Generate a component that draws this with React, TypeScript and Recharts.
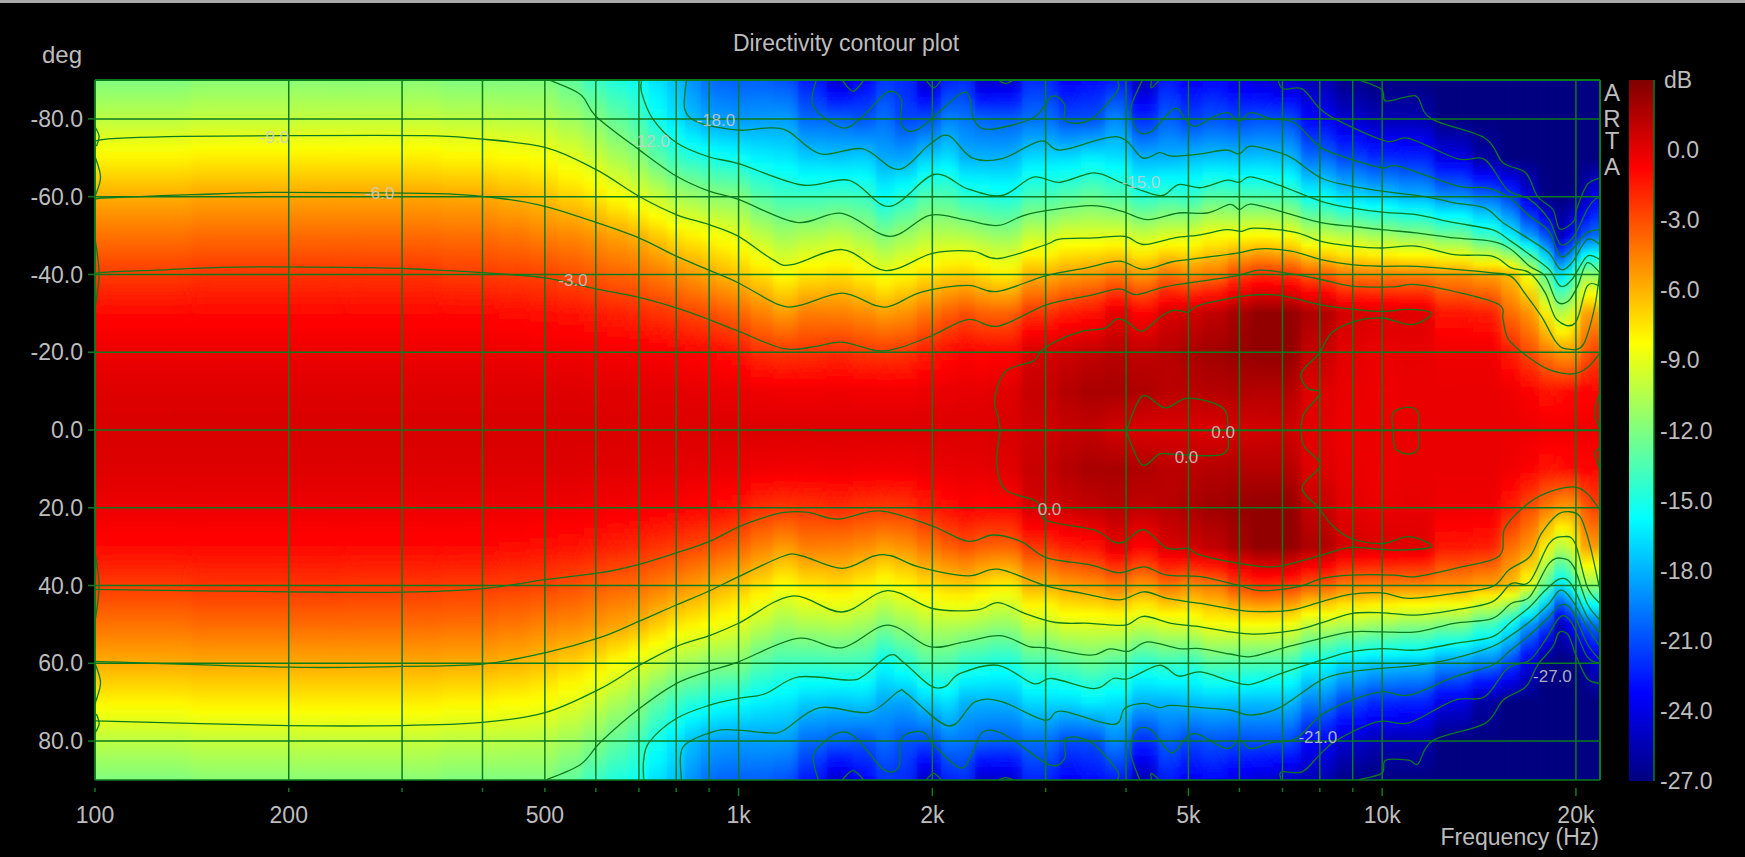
import React from "react";
import {
  ScatterChart,
  Scatter,
  XAxis,
  YAxis,
  ReferenceArea,
  ReferenceLine,
} from "recharts";

const GREEN = "#0c7a1e";
const TEXT = "#bdbdbd";
const FONT = "'Liberation Sans', Arial, sans-serif";

const angles = [-90, -80, -70, -60, -50, -40, -30, -20, -10, 0, 10, 20, 30, 40, 50, 60, 70, 80, 90];
const freqs = [
  100, 200, 300, 400, 450, 500, 550, 600, 650, 700, 750, 800, 850, 900, 950, 1000, 1090, 1176, 1303, 1444, 1570, 1704, 1794, 2000, 2130, 2268,
  2397, 2533, 3000, 3300, 3517, 3924, 4259, 4730, 5000, 5530, 6000, 6554, 7000, 8000, 9000, 10000, 11270, 12920,
  14800, 15850, 16950, 18130, 18900, 19500, 20000, 20700, 21400,
];

// dB per frequency, one value per angle in `angles`
const dbRows = [
  [-12, -10.2, -8, -6, -4.4, -2.9, -1.5, -0.7, -0.2, 0, -0.2, -0.7, -1.5, -2.9, -4.4, -6, -8, -10.2, -12],
  [-11.7, -10, -7.8, -5.8, -4.2, -2.7, -1.5, -0.7, -0.2, 0, -0.2, -0.7, -1.5, -2.7, -4.2, -5.9, -7.8, -10, -11.7],
  [-11.7, -10, -7.8, -5.8, -4.2, -2.7, -1.5, -0.7, -0.2, 0, -0.2, -0.7, -1.5, -2.8, -4.2, -5.9, -7.8, -10, -11.7],
  [-12, -10.2, -8, -5.9, -4.3, -2.9, -1.5, -0.7, -0.2, 0, -0.2, -0.7, -1.5, -2.9, -4.3, -6, -8, -10.2, -12],
  [-12, -10.3, -8.2, -6.2, -4.5, -3, -1.6, -0.7, -0.2, 0, -0.2, -0.7, -1.6, -3, -4.5, -6.2, -8.2, -10.3, -12],
  [-12, -10.4, -8.4, -6.5, -4.8, -3.1, -1.7, -0.8, -0.2, 0, -0.2, -0.8, -1.7, -3.1, -4.8, -6.5, -8.4, -10.4, -12],
  [-12.8, -11, -9, -7, -5, -3.4, -1.8, -0.8, -0.2, 0, -0.2, -0.8, -1.8, -3.4, -5, -7, -9, -11, -12.8],
  [-14, -11.8, -9.7, -7.5, -5.3, -3.7, -2, -0.9, -0.3, 0, -0.3, -0.9, -2, -3.7, -5.3, -7.5, -9.7, -11.8, -14],
  [-14.8, -12.8, -10.7, -8.3, -5.7, -4, -2.2, -1, -0.3, -0.1, -0.3, -1, -2.2, -4, -5.7, -8.3, -10.7, -12.8, -14.8],
  [-15.4, -13.7, -11.5, -9, -6.1, -4.2, -2.4, -1, -0.3, -0.1, -0.3, -1, -2.4, -4.2, -6.1, -9, -11.5, -13.8, -15.4],
  [-16.6, -15.2, -12.9, -9.8, -6.8, -4.6, -2.7, -1.1, -0.4, -0.1, -0.4, -1.1, -2.7, -4.6, -6.8, -9.8, -12.9, -15.2, -16.6],
  [-17.5, -16.5, -14.1, -10.7, -7.5, -5, -2.9, -1.2, -0.4, -0.1, -0.4, -1.2, -2.9, -5, -7.5, -10.7, -14, -16.4, -17.5],
  [-18.9, -17.6, -14.6, -11.1, -7.9, -5.4, -3.2, -1.4, -0.5, -0.1, -0.5, -1.4, -3.2, -5.4, -7.9, -11.1, -14.6, -17.6, -18.9],
  [-20, -18.5, -15, -11.5, -8.2, -5.8, -3.4, -1.5, -0.5, -0.1, -0.5, -1.5, -3.4, -5.8, -8.2, -11.6, -15, -18.4, -20],
  [-20.3, -18.7, -15.3, -11.7, -8.6, -6.2, -3.7, -1.7, -0.6, -0.1, -0.6, -1.7, -3.7, -6.2, -8.6, -11.7, -15.3, -18.6, -20.3],
  [-20.5, -18.8, -15.5, -11.8, -9, -6.6, -4, -1.9, -0.6, -0.1, -0.6, -1.9, -4, -6.6, -9, -11.8, -15.5, -18.7, -20.4],
  [-20.4, -18.7, -16.1, -13.2, -10.1, -7.3, -4.8, -2.6, -0.8, -0.1, -0.8, -2.6, -4.8, -7.3, -10.1, -13.2, -16.1, -18.6, -20.4],
  [-20.8, -18.6, -16.4, -13.9, -11, -8.3, -5.5, -2.8, -0.9, -0.1, -0.9, -2.8, -5.5, -8.3, -11, -13.9, -16.4, -18.6, -20.8],
  [-22.5, -20.2, -17.2, -14, -10.6, -7.6, -4.7, -2.7, -0.9, -0.1, -0.9, -2.7, -4.7, -7.6, -10.6, -14, -17.2, -20.1, -22.6],
  [-24.8, -20.3, -17.4, -13.8, -10.2, -7.3, -4.8, -2.5, -0.8, -0.1, -0.8, -2.5, -4.8, -7.3, -10.4, -13.9, -17.4, -20.5, -24.8],
  [-23.4, -20.8, -17.2, -14, -10.9, -7.9, -5.1, -2.8, -0.9, -0.1, -0.9, -2.8, -5.1, -7.9, -10.9, -14, -17.2, -20.8, -23.4],
  [-21.6, -19.9, -18.3, -15.7, -12, -8.7, -5.6, -2.9, -0.9, -0.1, -0.9, -2.9, -5.6, -8.7, -12, -15.7, -18.3, -20, -21.8],
  [-22, -21.2, -18.4, -14.7, -11.2, -8.1, -5.3, -2.8, -0.9, -0.1, -0.9, -2.8, -5.3, -8.1, -11.2, -14.7, -18.4, -20.8, -22],
  [-25, -21, -17.2, -13.4, -10.4, -7.4, -4.5, -2.1, -0.7, -0.1, -0.7, -2.1, -4.5, -7.4, -10.4, -13.4, -17.2, -21, -25],
  [-22.3, -19.4, -16.6, -13.4, -10.4, -7, -3.9, -1.7, -0.6, -0.1, -0.6, -1.7, -3.9, -7, -10.4, -13.4, -16.6, -19.6, -22.3],
  [-21.9, -19.8, -18, -14.5, -10.5, -6.8, -3.4, -1.3, -0.5, -0.1, -0.5, -1.3, -3.4, -6.8, -10.5, -14.5, -18, -19.8, -21.9],
  [-25, -20.3, -18, -14.6, -10.9, -7.3, -3.9, -1.5, -0.5, -0.1, -0.5, -1.5, -3.9, -7.3, -10.9, -14.6, -18, -20.3, -25],
  [-24.8, -20.5, -18, -15, -11.3, -7.8, -4, -1.4, -0.3, 0, -0.3, -1.4, -4, -7.8, -11.3, -15, -18, -20.5, -24.8],
  [-22, -20, -16.8, -13.7, -9.9, -6.1, -2.7, 0.1, 0.6, 0.3, 0.6, 0.1, -2.7, -6.1, -9.9, -13.7, -16.8, -20, -22.2],
  [-23.5, -21, -16.8, -13.2, -9.2, -5.6, -2.1, 0.4, 1.2, 0.6, 1.2, 0.4, -2.1, -5.6, -9.2, -13.2, -16.8, -21, -23.5],
  [-23, -21, -16.2, -12.7, -9.2, -5.3, -1.8, 0.7, 1.6, 0.7, 1.6, 0.7, -1.8, -5.3, -9.2, -12.7, -16.2, -21, -23],
  [-22.5, -19.3, -16.6, -13.3, -9.1, -4.7, -0.5, 1.1, 1.6, 0.2, 1.6, 1.1, -0.5, -4.7, -9.1, -13.3, -16.6, -19.3, -22.5],
  [-25.5, -22, -18, -14.5, -9.9, -5.4, -1.3, 0.8, 1.4, -0.1, 1.4, 0.8, -1.3, -5.4, -9.9, -14.5, -18, -22, -25.5],
  [-22.5, -20.4, -18, -14, -9.3, -4.4, 0, 1.1, 1, -0.1, 1, 1.1, 0, -4.4, -9.3, -14, -18, -20.4, -22.5],
  [-23.5, -21.4, -17.7, -14.3, -9.2, -5, 0.3, 1.5, 1, -0.1, 1, 1.5, 0.3, -5, -9.2, -14.3, -17.7, -21.2, -23.5],
  [-23.2, -20.8, -17.5, -13.2, -8.5, -4.6, 0.8, 1.9, 1.2, -0.1, 1.2, 1.9, 0.8, -4.6, -8.5, -13.2, -17.5, -20.8, -23.2],
  [-24, -21.2, -17.6, -13.4, -8.4, -3.2, 1.7, 2.2, 1.3, 0.1, 1.3, 2.2, 1.7, -3.2, -8.4, -13.4, -17.6, -21, -24],
  [-24.5, -20.9, -17.5, -13.5, -8.2, -2.6, 2.4, 2.4, 1.2, 0.2, 1.2, 2.4, 2.4, -2.6, -8.4, -13.5, -17.7, -20.9, -24.5],
  [-25, -21, -17.7, -13.7, -8.5, -2.8, 2.4, 2.4, 1.2, 0.3, 1.2, 2.4, 2.4, -2.8, -8.5, -13.7, -17.7, -21, -25],
  [-25.5, -23.3, -20, -15.6, -10, -3.8, 1.4, 0.7, -0.2, -0.4, -0.2, 0.7, 1.4, -3.8, -10, -15.6, -19.5, -23.3, -25.5],
  [-26.8, -24.7, -21.2, -16.8, -10.5, -4.7, 0.1, -0.4, -0.6, -0.7, -0.6, -0.4, 0.1, -4.7, -10.5, -16.8, -21.2, -24.7, -26.8],
  [-27, -25.4, -22, -17.3, -11, -4.8, -0.1, -0.6, -0.8, -0.6, -0.8, -0.6, -0.1, -4.8, -11, -17.3, -22, -25.4, -27],
  [-27, -25.5, -22.2, -18, -11.5, -4.9, -0.2, -0.5, -0.6, -0.6, -0.6, -0.5, -0.2, -4.9, -11.5, -17.5, -22.2, -25.5, -27],
  [-27, -27, -24, -19.1, -12.4, -5.2, -1.9, -0.8, -0.6, -0.6, -0.6, -0.8, -1.9, -5.2, -12, -18.8, -24, -27, -27],
  [-27, -27, -26, -20, -14, -5.7, -2.1, -0.8, -0.6, -0.6, -0.6, -0.8, -2.1, -5.7, -13.6, -19.5, -26, -27, -27],
  [-27, -27, -27, -21.2, -16, -6.3, -4.2, -2, -0.8, -0.6, -0.8, -2, -4.2, -6.3, -15.5, -21, -27, -27, -27],
  [-27, -27, -27, -24.3, -18.5, -8.6, -5.2, -3.3, -1.2, -0.7, -1.2, -3.3, -5.2, -8.6, -18.5, -24, -27, -27, -27],
  [-27, -27, -27, -27, -20.6, -12.8, -7.8, -4.6, -1.9, -0.8, -1.9, -4.6, -7.8, -12.8, -20.8, -27, -27, -27, -27],
  [-27, -27, -27, -27, -26, -17, -10.6, -5.4, -1.9, -0.8, -1.9, -5.4, -10.6, -17, -26, -27, -27, -27, -27],
  [-27, -27, -27, -27, -24, -16, -10.3, -5.6, -1.7, -0.8, -1.7, -5.6, -10.3, -16, -24, -27, -27, -27, -27],
  [-27, -27, -27, -27, -22.6, -13.9, -8.5, -5.6, -1.8, -0.8, -1.8, -5.6, -8.5, -13.9, -23, -27, -27, -27, -27],
  [-27, -27, -27, -25.7, -20.6, -11, -5.6, -3.8, -1.5, -0.8, -1.5, -3.8, -5.6, -11, -20.6, -26.5, -27, -27, -27],
  [-27, -27, -27, -23.7, -20, -11.5, -5.5, -3, -1.5, -0.7, -1.5, -3, -5.5, -11.5, -20, -24.5, -27, -27, -27],
];

const freqTicks = [100, 200, 300, 400, 500, 600, 700, 800, 900, 1000, 2000, 3000, 4000, 5000, 6000, 7000, 8000, 9000, 10000, 20000];
const freqLabels: Record<number, string> = { 100: "100", 200: "200", 500: "500", 1000: "1k", 2000: "2k", 5000: "5k", 10000: "10k", 20000: "20k" };
const angleTicks = [-80, -60, -40, -20, 0, 20, 40, 60, 80];
const dbTicks = [-27, -24, -21, -18, -15, -12, -9, -6, -3, 0];

// contour lines, [Hz, deg]
const m3Top = [[100, -39], [101, -40.4], [125, -41.1], [165, -41.9], [273, -41.7], [341, -41.1], [420, -40.2], [500, -39.1], [600, -36.3], [700, -34.1], [800, -31.4], [900, -28.4], [1000, -25.4], [1176, -20.9], [1318, -21.5], [1448, -22.6], [1640, -20.4], [1775, -21.1], [2000, -24.3], [2270, -28.4], [2533, -26.7], [3006, -32.2], [3519, -34.6], [3900, -36.3], [4149, -34.8], [4560, -36.7], [4995, -37.8], [5880, -39.5], [6463, -41.1], [7304, -40], [8039, -38.7], [8954, -37], [10396, -36.8], [11293, -37.4], [13274, -35.2], [15205, -32.2], [15410, -28.4], [15730, -23.2], [16950, -18.5], [18170, -15.5], [19715, -14.4], [20820, -16], [21800, -19.8]];
const m3Bottom = [[100, 41], [200, 41.6], [300, 41.7], [400, 40.8], [500, 38.5], [610, 36.7], [698, 34.6], [800, 31.6], [900, 28.7], [1000, 24.9], [1085, 22.7], [1176, 21.2], [1283, 21.2], [1428, 22.9], [1660, 20.8], [2000, 24.7], [2270, 28.6], [2485, 27], [2750, 28.7], [3006, 32.8], [3519, 34.7], [3900, 36.7], [4261, 35.2], [4630, 37.3], [5220, 37.7], [5970, 39.9], [6463, 41.3], [7410, 40.3], [8039, 38.2], [8954, 37.3], [10396, 37.3], [11293, 37.7], [13274, 35.2], [15205, 32.4], [15500, 25.3], [16620, 19.7], [17930, 16.3], [19715, 14.6], [20820, 16.3], [21800, 20.6]];
const m6Top = [[100, -58], [101, -59.5], [120, -60.1], [142, -60.5], [186, -61.1], [261, -61], [352, -60.7], [433, -59.4], [500, -57.5], [600, -53.4], [700, -49.4], [800, -44.7], [900, -41.1], [1000, -37.8], [1160, -32.1], [1255, -32.2], [1448, -35.2], [1635, -32], [1730, -32], [1930, -35.5], [2270, -37.2], [2520, -35.6], [3006, -39.7], [3470, -41.7], [3900, -43.4], [4261, -41.3], [4700, -43.2], [4995, -43.8], [5950, -45.5], [6463, -46.6], [7225, -46], [8039, -43.8], [8954, -42.5], [9990, -42.1], [11293, -42.1], [12937, -41.3], [14820, -40.4], [15864, -39.5], [16720, -34.8], [17680, -29.2], [18670, -22.4], [19448, -20.8], [20540, -22], [21400, -31.8], [21800, -41.3]];
const m6Bottom = [[100, 59.5], [200, 61], [300, 60.8], [400, 60.2], [500, 57.3], [610, 53.3], [698, 49.3], [800, 45], [900, 41.4], [1000, 37.7], [1176, 32.4], [1255, 32.4], [1448, 35.6], [1623, 32.4], [1730, 32.4], [1905, 35.2], [2270, 37.5], [2533, 35.8], [3006, 40.1], [3425, 42], [3900, 43.7], [4261, 41.6], [4630, 43.3], [5220, 44.6], [5970, 46.3], [6463, 46.7], [7225, 46.3], [8039, 44.2], [8954, 42.2], [10000, 41.9], [11000, 43.3], [12937, 42], [14820, 40.3], [15730, 36], [16950, 32.6], [17680, 26.6], [18670, 21.9], [19448, 21], [20300, 22.3], [21000, 29.2], [21800, 41.2]];
const m9Top = [[100, -73.5], [101, -74.5], [112, -75.1], [137, -75.5], [198, -75.7], [325, -75.7], [388, -75], [500, -72.7], [600, -67], [700, -60.1], [800, -55.4], [900, -52.8], [1000, -49.8], [1130, -43.8], [1210, -42.5], [1448, -46.4], [1693, -41], [2000, -45.4], [2305, -46], [2533, -44.1], [3006, -47.7], [3155, -49.1], [3575, -49.4], [3980, -49.8], [4261, -47.7], [4759, -49.4], [5220, -50.2], [5722, -51.5], [6045, -51.1], [6330, -51.9], [7304, -50.9], [8039, -48.5], [8954, -47.3], [10000, -46.8], [11293, -47.3], [12937, -45.1], [14820, -44.7], [15864, -41.7], [16950, -40.4], [17930, -35.2], [18670, -28.4], [19950, -27.5], [20820, -37], [21800, -37]];
const m9Bottom = [[100, 74.8], [200, 76], [300, 76], [400, 75.2], [500, 72.7], [610, 66.5], [698, 60.7], [800, 55.7], [900, 52.9], [1000, 49.7], [1210, 42.7], [1448, 46.8], [1704, 41.3], [2000, 45.9], [2340, 46.3], [2533, 44.4], [2790, 47.2], [3110, 49.5], [3519, 49.7], [3980, 50.2], [4261, 47.9], [4700, 49.7], [5220, 50.6], [5800, 51.9], [6330, 52.5], [7304, 51.5], [8039, 49.6], [8954, 47.2], [10000, 47], [11293, 47.6], [12937, 46.3], [14820, 44.2], [15864, 39.5], [16950, 39], [18170, 29.2], [19190, 27.4], [19950, 29.2], [20820, 40.3], [21800, 44.6]];
const m12Top = [[508, -90], [568, -86.3], [600, -80.7], [700, -72.1], [800, -65.3], [900, -61.4], [1000, -59.3], [1230, -53.4], [1448, -55.7], [1716, -49.8], [1980, -55.2], [2242, -54.1], [2533, -52.6], [2830, -55.6], [3519, -57.7], [3930, -56.3], [4320, -54.1], [4830, -55.8], [5347, -55.8], [5800, -58], [6000, -56.7], [6250, -58.1], [6930, -56.3], [8039, -53.3], [8954, -52.4], [10000, -51.5], [11293, -50.7], [12937, -49.4], [14820, -48.5], [15864, -46.4], [16950, -42.1], [17930, -39.5], [18670, -33.1], [19448, -33.1], [20120, -37], [20820, -43], [21800, -40.4]];
const m12Bottom = [[502, 90], [568, 86], [610, 80.3], [698, 71.9], [800, 65.2], [900, 62], [1000, 59.6], [1235, 53.6], [1448, 56], [1704, 50.2], [1980, 55.7], [2242, 54.5], [2550, 52.9], [2830, 55.7], [3006, 56], [3519, 57.9], [3770, 56.3], [4040, 56.9], [4320, 54.5], [4830, 56.2], [5220, 56.2], [5800, 57.6], [6250, 58.3], [6970, 56.2], [8039, 53.6], [8954, 51.9], [10000, 51.9], [11293, 51.9], [12937, 49.7], [14820, 48.5], [15864, 44.6], [16950, 42.9], [18170, 34.3], [19050, 33], [19850, 35.2], [20820, 44.6], [21800, 48.9]];
const m15Top = [[707, -90], [707, -86.7], [737, -79.8], [802, -73.8], [900, -70.2], [1000, -68.5], [1255, -63], [1486, -64.2], [1716, -57.5], [2010, -65.7], [2270, -62], [2568, -60.3], [2870, -65], [3155, -63.7], [3570, -66.1], [3930, -63.6], [4261, -61.4], [4560, -60.3], [4830, -63.1], [5220, -62.3], [5722, -64.2], [6000, -63.7], [6250, -65.1], [6930, -62.9], [8039, -58.8], [8954, -57.1], [10000, -56], [11293, -55.4], [12937, -53.3], [14820, -51.5], [15864, -48.5], [16950, -45.1], [18170, -41.3], [18925, -37], [19715, -38.7], [20820, -44.7], [21800, -43.8]];
const m15Bottom = [[712, 90], [712, 84.9], [727, 80.2], [800, 74.2], [900, 70.8], [1000, 69], [1100, 67.8], [1240, 63.5], [1486, 64.3], [1570, 63], [1716, 57.9], [1800, 59.6], [1980, 65.6], [2093, 66], [2210, 62.6], [2533, 60.5], [2870, 65.2], [3070, 63.9], [3570, 66.5], [3820, 63.9], [4040, 63.9], [4505, 60.5], [4830, 63.3], [5220, 62.2], [5800, 64.5], [6250, 65.4], [6970, 62.6], [8039, 59.2], [8954, 57], [10000, 56.2], [11293, 56.6], [12937, 54.9], [14820, 53.2], [15864, 49.3], [16950, 45.5], [17930, 41.2], [18925, 38.2], [19715, 39.9], [20820, 48], [21800, 52.3]];
const m18Top = [[830, -90], [825, -82.4], [870, -79], [1000, -77.1], [1115, -77.7], [1195, -76.8], [1340, -71], [1560, -72.3], [1770, -67], [1980, -73.4], [2120, -75.7], [2305, -70], [2568, -69.8], [2945, -74.3], [3175, -72], [3874, -75.4], [4240, -70], [4505, -71.3], [4720, -70.4], [5220, -71], [5722, -72], [6000, -71], [6250, -73], [6930, -71.3], [7304, -69.6], [8039, -64.8], [8954, -62.7], [10000, -61.4], [11770, -59.9], [12937, -58.4], [14430, -57.1], [15410, -53.3], [16950, -49], [18170, -45.5], [18925, -41.3], [19715, -43], [20820, -49], [21800, -47.7]];
const m18Bottom = [[815, 90], [820, 81.5], [920, 77.4], [1000, 77.2], [1115, 77.9], [1176, 77.2], [1336, 71.4], [1592, 72.6], [1770, 67.3], [1826, 67.8], [2120, 76.1], [2330, 69.9], [2568, 69.9], [2985, 74.6], [3175, 72.3], [3820, 75.7], [3980, 71.6], [4261, 70.3], [4505, 71.4], [4700, 70.8], [5220, 71.4], [5800, 72], [6250, 73.3], [6930, 71.4], [8039, 64.3], [8954, 62.2], [10000, 61.3], [11293, 60.5], [12937, 58.7], [14820, 55.7], [15730, 53.2], [16950, 49.3], [18170, 44.6], [18925, 41.2], [19715, 43.7], [20820, 50.6], [21800, 55.7]];
const m21TopA = [[1320, -90], [1306, -83.3], [1448, -77.7], [1560, -80.7], [1704, -86.9], [1790, -85], [1790, -78.6], [1900, -77.3], [2210, -86.4], [2290, -85], [2320, -79.8], [2450, -77.3], [2870, -80.3], [3070, -85.8], [3210, -83.7], [3225, -79.4], [3519, -79.8], [3874, -87.1], [3874, -90]];
const m21TopB = [[4240, -90], [4065, -82.4], [4175, -76.8], [4380, -76.8], [4759, -82.7], [4950, -79.8], [5130, -78.1], [5495, -80.7], [5755, -81.6], [6000, -79.4], [6250, -81.6], [6735, -80], [7304, -79], [8039, -72.6], [8954, -69.6], [10000, -67.4], [10620, -67.8], [13115, -62.7], [14430, -62.3], [15650, -60.1], [16950, -55], [18170, -51.1], [18925, -44.7], [19715, -46.4], [20820, -50.7], [21800, -51.5]];
const m21BottomA = [[1330, 90], [1310, 83.2], [1428, 77.9], [1525, 79.3], [1680, 87.3], [1775, 86.6], [1790, 79.3], [1930, 77.6], [2010, 81], [2210, 86.9], [2305, 83.2], [2398, 77.6], [2600, 78.5], [3030, 86], [3210, 84.5], [3225, 79.3], [3519, 80.2], [3874, 87.5], [3874, 90]];
const m21BottomB = [[4200, 90], [4065, 82.8], [4149, 77.2], [4380, 77.2], [4700, 83], [4950, 79.3], [5165, 78.2], [5722, 81.9], [6000, 79.8], [6250, 81.9], [6735, 80.4], [7355, 79.3], [8039, 73.3], [8954, 69.5], [10000, 67.3], [11000, 68.2], [12937, 63.5], [14820, 60.5], [15730, 57], [16950, 52.7], [18170, 48], [18925, 45], [19715, 46.3], [20820, 54.9], [21800, 59.2]];
const m24Top = [[6890, -90], [7017, -87.7], [7510, -87.7], [7985, -82.8], [8490, -79.8], [10125, -74.3], [11000, -75], [13115, -69.7], [14430, -69.6], [15650, -61.8], [16950, -59.3], [18170, -54.1], [18925, -47.7], [19850, -49.8], [20820, -56.7], [21400, -59.3], [21800, -59.7]];
const m24Bottom = [[6970, 90], [6970, 87.9], [7510, 87.9], [7985, 83.6], [8490, 79.8], [9857, 75], [11000, 75.3], [12937, 69.5], [14430, 68.6], [15650, 61.3], [16950, 59.2], [17930, 54], [18925, 48], [19715, 49.7], [20820, 58.3], [21800, 60]];
const m24Islands = [
  [[1448, -90], [1505, -87.1], [1566, -90]], [[1955, -90], [2010, -88], [2065, -90]], [[2533, -90], [2600, -89.1], [2675, -90]], [[4380, -90], [4380, -88], [4505, -90]],
  [[1448, 90], [1505, 87.6], [1566, 90]], [[1955, 90], [2010, 88.3], [2065, 90]], [[2533, 90], [2600, 89.4], [2675, 90]], [[4380, 90], [4380, 88.3], [4505, 90]],
];
const m27Top = [[9210, -90], [9980, -87.6], [10125, -84.6], [11000, -85.8], [11370, -85.4], [11930, -80], [14430, -75.1], [15410, -68.7], [16720, -66.1], [17430, -60.1], [18420, -56.7], [18870, -51.7], [19850, -53.7], [20040, -56.7], [20820, -63.1], [21800, -64.8]];
const m27Bottom = [[9150, 90], [9980, 88.3], [10125, 84.9], [11000, 84.9], [11370, 85.8], [12000, 79.8], [14430, 75.5], [15410, 69.5], [16720, 66], [17430, 60.5], [18420, 55.7], [18820, 52.1], [19448, 52.7], [20040, 58.3], [20820, 63.9], [21800, 65.2]];
const zeroMain = [[2550, 0], [2533, -3.1], [2500, -7.8], [2600, -15.1], [2870, -17.7], [2945, -20.2], [3110, -22.8], [3425, -25.4], [3710, -26.2], [3874, -28.6], [4040, -27.5], [4240, -25.4], [4530, -29.2], [4759, -30.8], [4995, -30.3], [5220, -32.2], [6200, -34.6], [6930, -34.6], [8039, -32.2], [8954, -31.1], [10000, -30.5], [11000, -31], [11930, -30], [11120, -27.1], [10000, -28.8], [9090, -28], [8350, -25], [7985, -19.8], [7490, -14.7], [7650, -10.8], [8010, -9.5], [7570, -4.4], [7480, 0], [7570, 4.3], [8010, 9], [7510, 14.8], [7985, 20.2], [8350, 24.4], [8954, 27.9], [10000, 29.2], [11000, 27.4], [11930, 30], [10396, 30.9], [8954, 30.2], [8039, 32.2], [6930, 35], [6200, 34.7], [5220, 32.2], [4995, 30.4], [4630, 30.4], [4261, 25.6], [3980, 28.7], [3820, 28.7], [3570, 25.7], [3006, 23.2], [2905, 18.4], [2600, 15.4], [2520, 8.6], [2550, 0]];
const zeroInner = [[4008, 0], [4240, -8.7], [4600, -5.7], [4995, -8.2], [5650, -5.7], [5755, 0], [5650, 6.2], [4735, 6.2], [4505, 6.2], [4240, 9], [4040, 2.1], [4008, 0]];
const zeroSmall = [[10396, 0], [10396, -4.4], [10985, -5.9], [11370, -4.4], [11370, 0], [11370, 4.7], [10985, 6.2], [10480, 4.7], [10396, 0]];
const zeroEdge = [[21800, -9.5], [21440, -6.1], [21400, -3.5], [21800, 0], [21800, 4.3], [21400, 6], [21800, 10.3]];
const zeroAxis = [[1296, 0.15], [21800, 0.15]];
const edgeBits = [
  [[100, -78], [101.5, -75.5], [100.5, -73]], [[100, -70.4], [102, -65], [100, -60]], [[100, -49.4], [101.5, -40], [100, -31.4]],
  [[100, 78], [101.5, 75.5], [100.5, 73]], [[100, 70.4], [102, 65], [100, 60]], [[100, 49.4], [101.5, 40], [100, 31.4]],
];

const contours = [
  m3Top, m3Bottom, m6Top, m6Bottom, m9Top, m9Bottom, m12Top, m12Bottom, m15Top, m15Bottom, m18Top, m18Bottom,
  m21TopA, m21TopB, m21BottomA, m21BottomB, m24Top, m24Bottom, ...m24Islands, m27Top, m27Bottom,
  zeroMain, zeroInner, zeroSmall, zeroEdge, zeroAxis, ...edgeBits,
];

const contourLabels = [
  { f: 190, a: -75.3, text: "-9.0" },
  { f: 277, a: -60.9, text: "-6.0" },
  { f: 553, a: -38.5, text: "-3.0" },
  { f: 729, a: -74.4, text: "-12.0" },
  { f: 922, a: -79.6, text: "-18.0" },
  { f: 4217, a: -63.8, text: "-15.0" },
  { f: 5662, a: 0.6, text: "0.0" },
  { f: 4965, a: 6.9, text: "0.0" },
  { f: 3041, a: 20.4, text: "0.0" },
  { f: 7943, a: 79, text: "-21.0" },
  { f: 18390, a: 63.2, text: "-27.0" },
];

// jet colour ramp over -27..3 dB, for the bar
const barStops = [
  [-27, 0, 0, 128],
  [-23.25, 0, 0, 255],
  [-15.75, 0, 255, 255],
  [-8.25, 255, 255, 0],
  [-0.75, 255, 0, 0],
  [3, 128, 0, 0],
];
// the plot itself reaches full red a little lower
const heatStops = [
  [-27, 0, 0, 128],
  [-23.25, 0, 0, 255],
  [-15.75, 0, 255, 255],
  [-8.25, 255, 255, 0],
  [-1.3, 255, 0, 0],
  [3, 128, 0, 0],
];

function dbColor(db: number) {
  const v = Math.max(-27, Math.min(3, db));
  for (let i = 1; i < heatStops.length; i++) {
    if (v <= heatStops[i][0]) {
      const [d0, r0, g0, b0] = heatStops[i - 1];
      const [d1, r1, g1, b1] = heatStops[i];
      const t = (v - d0) / (d1 - d0);
      return `rgb(${Math.round(r0 + (r1 - r0) * t)},${Math.round(g0 + (g1 - g0) * t)},${Math.round(b0 + (b1 - b0) * t)})`;
    }
  }
  return "rgb(128,0,0)";
}

// gradient stops for one column; extra stops keep the blend on the colour ramp
function columnStops(row: number[]) {
  const out: React.ReactElement[] = [];
  for (let i = 0; i < row.length - 1; i++) {
    for (let k = 0; k < 4; k++) {
      const t = k / 4;
      out.push(
        <stop
          key={`${i}-${k}`}
          offset={`${((i + t) / (row.length - 1)) * 100}%`}
          stopColor={dbColor(row[i] + (row[i + 1] - row[i]) * t)}
        />
      );
    }
  }
  out.push(<stop key="end" offset="100%" stopColor={dbColor(row[row.length - 1])} />);
  return out;
}

const FREQ_MIN = 100;
const FREQ_MAX = 21800;

function columnEdges(i: number): [number, number] {
  const lo = i === 0 ? FREQ_MIN : Math.sqrt(freqs[i - 1] * freqs[i]);
  const hi = i === freqs.length - 1 ? FREQ_MAX : Math.sqrt(freqs[i] * freqs[i + 1]);
  return [lo, hi];
}

function FreqTick({ x, y, payload }: any) {
  const label = freqLabels[payload.value];
  return (
    <g>
      <line x1={x} y1={y} x2={x} y2={y + (label && payload.value >= 1000 ? 8 : 4)} stroke={GREEN} strokeWidth={1.5} />
      {label && (
        <text x={x} y={y + 35} textAnchor="middle" fill={TEXT} fontSize={23} fontFamily={FONT}>
          {label}
        </text>
      )}
    </g>
  );
}

function DbTick({ x, y, payload }: any) {
  return (
    <text x={x + (payload.value === 0 ? 7 : 0)} y={y + 8} fill={TEXT} fontSize={23} fontFamily={FONT}>
      {payload.value.toFixed(1)}
    </text>
  );
}

const noDot = () => null;

// contour path through the scaled points, rounded a little like the original
function SmoothLine({ points }: any) {
  if (!points || points.length < 2) return null;
  let d = `M${points[0].x},${points[0].y}`;
  for (let i = 0; i < points.length - 1; i++) {
    const p0 = points[Math.max(0, i - 1)];
    const p1 = points[i];
    const p2 = points[i + 1];
    const p3 = points[Math.min(points.length - 1, i + 2)];
    d += `C${p1.x + (p2.x - p0.x) / 6},${p1.y + (p2.y - p0.y) / 6} ${p2.x - (p3.x - p1.x) / 6},${p2.y - (p3.y - p1.y) / 6} ${p2.x},${p2.y}`;
  }
  return <path d={d} fill="none" stroke={GREEN} strokeWidth={1.3} />;
}

function ContourText({ cx, cy, payload }: any) {
  return (
    <text x={cx} y={cy + 6} textAnchor="middle" fill="rgba(205,205,205,0.85)" fontSize={17} fontFamily={FONT}>
      {payload.text}
    </text>
  );
}

function Caption({ x, y, right, children, size = 22 }: any) {
  const style: React.CSSProperties = {
    position: "absolute",
    top: y,
    color: TEXT,
    fontSize: size,
    fontFamily: FONT,
    lineHeight: 1,
    whiteSpace: "nowrap",
  };
  if (right !== undefined) style.right = right;
  else style.left = x;
  return <div style={style}>{children}</div>;
}

export default function App() {
  return (
    <div style={{ position: "fixed", left: 0, top: 0, width: 1745, height: 857, background: "#000", overflow: "hidden" }}>
      <div style={{ position: "absolute", left: 0, top: 0, width: 1745, height: 3, background: "#a9a9a9" }} />

      <ScatterChart
        width={1745}
        height={857}
        margin={{ top: 80, right: 145, bottom: 0, left: 0 }}
        style={{ position: "absolute", left: 0, top: 0 }}
      >
        <defs>
          <filter id="hblur" x="-300%" y="0%" width="700%" height="100%">
            <feGaussianBlur stdDeviation="7 0" />
          </filter>
          {dbRows.map((row, i) => (
            <linearGradient key={i} id={`col${i}`} x1="0" y1="0" x2="0" y2="1">
              {columnStops(row)}
            </linearGradient>
          ))}
        </defs>
        <XAxis
          type="number"
          dataKey="f"
          scale="log"
          domain={[FREQ_MIN, FREQ_MAX]}
          allowDataOverflow
          ticks={freqTicks}
          interval={0}
          height={77}
          tickLine={false}
          axisLine={{ stroke: GREEN, strokeWidth: 1.5 }}
          tick={<FreqTick />}
        />
        <YAxis
          type="number"
          dataKey="a"
          domain={[-90, 90]}
          reversed
          allowDataOverflow
          ticks={angleTicks}
          interval={0}
          width={95}
          tickSize={7}
          tickMargin={5}
          tickLine={{ stroke: GREEN, strokeWidth: 1.5 }}
          axisLine={{ stroke: GREEN, strokeWidth: 1.5 }}
          tick={{ fill: TEXT, fontSize: 23, fontFamily: FONT }}
          tickFormatter={(v: number) => v.toFixed(1)}
        />

        {/* full plot rectangle, only used as the clip for the softened columns */}
        <ReferenceArea
          x1={FREQ_MIN}
          x2={FREQ_MAX}
          y1={-90}
          y2={90}
          shape={(p: any) => (
            <clipPath id="plotClip">
              <rect x={p.x} y={p.y} width={p.width} height={p.height} />
            </clipPath>
          )}
        />

        {freqs.map((f, i) => {
          const [lo, hi] = columnEdges(i);
          return (
            <ReferenceArea
              key={`base${f}`}
              x1={lo}
              x2={hi}
              y1={-90}
              y2={90}
              shape={(p: any) => <rect x={p.x} y={p.y} width={p.width + 1} height={p.height} fill={`url(#col${i})`} clipPath="url(#plotClip)" />}
            />
          );
        })}
        {freqs.map((f, i) => {
          const [lo, hi] = columnEdges(i);
          return (
            <ReferenceArea
              key={`soft${f}`}
              x1={lo}
              x2={hi}
              y1={-90}
              y2={90}
              shape={(p: any) => (
                <g clipPath="url(#plotClip)">
                  <rect x={p.x} y={p.y} width={p.width} height={p.height} fill={`url(#col${i})`} filter="url(#hblur)" />
                </g>
              )}
            />
          );
        })}

        {freqTicks.map((f) => (
          <ReferenceLine key={f} x={f} stroke={GREEN} strokeWidth={1.5} />
        ))}
        {angleTicks.map((a) => (
          <ReferenceLine key={a} y={a} stroke={GREEN} strokeWidth={1.5} />
        ))}
        <ReferenceLine x={FREQ_MAX} stroke={GREEN} strokeWidth={2} />
        <ReferenceLine y={-90} stroke={GREEN} strokeWidth={2} />

        {contours.map((pts, i) => (
          <Scatter
            key={i}
            data={pts.map(([f, a]) => ({ f, a }))}
            line={SmoothLine}
            shape={noDot}
            isAnimationActive={false}
          />
        ))}
        <Scatter data={contourLabels} shape={<ContourText />} isAnimationActive={false} />
      </ScatterChart>

      {/* colour bar */}
      <ScatterChart
        width={116}
        height={857}
        margin={{ top: 80, right: 0, bottom: 76, left: 0 }}
        style={{ position: "absolute", left: 1629, top: 0 }}
      >
        <defs>
          <linearGradient id="barGrad" x1="0" y1="0" x2="0" y2="1">
            {barStops
              .slice()
              .reverse()
              .map(([d, r, g, b]) => (
                <stop key={d} offset={`${((3 - d) / 30) * 100}%`} stopColor={`rgb(${r},${g},${b})`} />
              ))}
          </linearGradient>
        </defs>
        <XAxis type="number" dataKey="x" domain={[0, 1]} hide />
        <YAxis
          type="number"
          dataKey="y"
          orientation="right"
          domain={[-27, 3]}
          allowDataOverflow
          ticks={dbTicks}
          interval={0}
          width={91}
          tickLine={false}
          axisLine={false}
          tickMargin={0}
          tick={<DbTick />}
        />
        <ReferenceArea x1={0} x2={1} y1={-27} y2={3} fill="url(#barGrad)" fillOpacity={1} stroke="none" />
        <ReferenceLine x={1} stroke={GREEN} strokeWidth={1.5} />
        <Scatter data={[{ x: 0, y: -27 }, { x: 1, y: 3 }]} shape={noDot} isAnimationActive={false} />
      </ScatterChart>

      <div style={{ position: "absolute", left: 0, width: 1692, top: 32, textAlign: "center", color: TEXT, fontSize: 23, fontFamily: FONT, lineHeight: 1 }}>
        Directivity contour plot
      </div>
      <Caption x={42} y={43} size={24}>deg</Caption>
      <Caption x={1664} y={69} size={23}>dB</Caption>
      <Caption right={146} y={826} size={23}>Frequency (Hz)</Caption>
      {["A", "R", "T", "A"].map((c, i) => (
        <div
          key={i}
          style={{ position: "absolute", left: 1603, width: 18, textAlign: "center", top: [81, 107, 129, 155][i], color: TEXT, fontSize: 24, fontFamily: FONT, lineHeight: 1 }}
        >
          {c}
        </div>
      ))}
    </div>
  );
}
